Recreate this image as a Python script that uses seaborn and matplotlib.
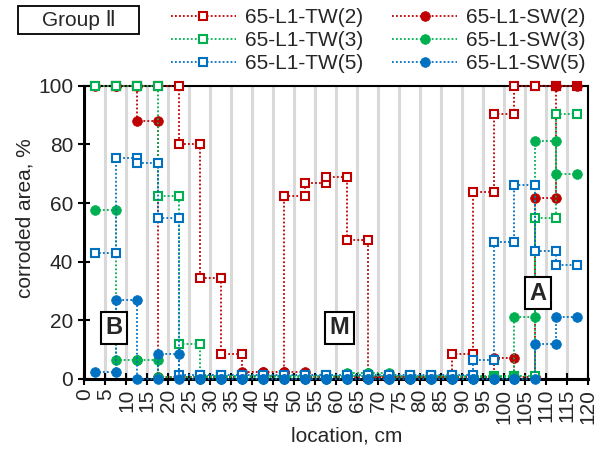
import matplotlib
matplotlib.use("Agg")
import matplotlib.pyplot as plt
from matplotlib.patches import Rectangle
from matplotlib.lines import Line2D
import seaborn as sns
import pandas as pd

# ---- data (segment values, 5 cm segments starting at 2.5 cm) ----
seg_start = 2.5
seg_width = 5
tw2 = [100, 100, 100, 100, 80, 34.5, 8.5, 1, 1, 62.5, 67, 69, 47.5, 0.5, 0.5, 0.5, 0.5, 8.5, 63.8, 90.5, 100, 100, 100]
tw3 = [100, 100, 100, 62.5, 12, 1, 1, 1, 1, 1, 1, 1, 1, 1, 1, 1, 1, 1, 1, 1, 1, 55, 90.5]
tw5 = [43, 75.5, 73.5, 55, 1.5, 1.5, 1.5, 1.5, 1.5, 1.5, 1.5, 1.5, 1.5, 1.5, 1.5, 1.5, 1.5, 1.5, 6.5, 46.8, 66, 43.5, 38.7]
sw2 = [100, 100, 88, 0.5, 0.5, 0.5, 0.5, 2.5, 2.5, 2.5, 0.5, 0.5, 0.5, 0.5, 0.5, 0.5, 0.5, 0.5, 0.5, 7.3, 0.8, 61.6, 100]
sw3 = [57.5, 6.5, 6.5, 0.5, 0.5, 0.5, 0.5, 0.5, 0.5, 0.5, 0.5, 0.5, 2, 2, 0.5, 0.5, 0.5, 0.5, 0.5, 0.5, 21, 81, 70]
sw5 = [2.5, 27, 0, 8.5, 0, 0, 0, 0, 0, 0, 0, 0, 0, 0, 0, 0, 0, 0, 0, 0, 0, 12, 21.3]

series_names = ["65-L1-TW(2)", "65-L1-TW(3)", "65-L1-TW(5)", "65-L1-SW(2)", "65-L1-SW(3)", "65-L1-SW(5)"]
series_vals = [tw2, tw3, tw5, sw2, sw3, sw5]
x_ticks = list(range(0, 125, 5))
y_ticks = [0, 20, 40, 60, 80, 100]

RED, GREEN, BLUE = "#C00000", "#00B050", "#0070C0"
colors = [RED, GREEN, BLUE, RED, GREEN, BLUE]
filled = [False, False, False, True, True, True]
draw_order = [0, 3, 1, 4, 2, 5]

sns.set_theme(style="white")
plt.rcParams["font.family"] = ["Liberation Sans", "DejaVu Sans"]

FS = 15
fig = plt.figure(figsize=(6.03, 4.49), dpi=100)
ax = fig.add_axes([0.140, 0.156, 0.835, 0.653])


def step_points(vals):
    xs, ys = [], []
    for k, v in enumerate(vals):
        x0 = seg_start + k * seg_width
        xs += [x0, x0 + seg_width]
        ys += [v, v]
    return xs, ys


def style(i):
    c = colors[i]
    if filled[i]:
        return dict(color=c, marker="o", markersize=7, markerfacecolor=c,
                    markeredgecolor=c, markeredgewidth=0.5)
    return dict(color=c, marker="s", markersize=5.4, markerfacecolor="white",
                markeredgecolor=c, markeredgewidth=1.5)


LS = (0, (1, 1.2))
for z, i in enumerate(draw_order):
    xs, ys = step_points(series_vals[i])
    df = pd.DataFrame({"x": xs, "y": ys})
    sns.lineplot(data=df, x="x", y="y", estimator=None, sort=False, ax=ax,
                 linestyle=LS, linewidth=1.3, clip_on=False, zorder=3 + z * 0.1,
                 **style(i))

handles = [Line2D([], [], linestyle=LS, linewidth=1.3, **style(i)) for i in range(6)]

ax.set_xlim(0, 120)
ax.set_ylim(0, 100)
ax.set_xticks(x_ticks)
ax.set_xticklabels([str(t) for t in x_ticks], rotation=90, fontsize=FS)
ax.set_yticks(y_ticks)
ax.set_yticklabels([str(t) for t in y_ticks], fontsize=FS)
ax.tick_params(axis="both", direction="inout", length=8, width=1.5, color="black",
               bottom=True, left=True)
ax.tick_params(axis="x", pad=3)
ax.tick_params(axis="y", pad=4)
ax.xaxis.grid(True, color="#D9D9D9", linewidth=2.2)
ax.yaxis.grid(False)
ax.set_axisbelow(True)
for s in ["left", "bottom"]:
    ax.spines[s].set_linewidth(2.2)
    ax.spines[s].set_color("black")
for s in ["top", "right"]:
    ax.spines[s].set_linewidth(1.5)
    ax.spines[s].set_color("black")

ax.set_xlabel("location, cm", fontsize=FS)
ax.set_ylabel("corroded area, %", fontsize=FS)
ax.xaxis.set_label_coords(0.52, -0.162)
ax.yaxis.set_label_coords(-0.1, 0.55)

box = dict(boxstyle="square,pad=0.2", fc="white", ec="black", lw=1.5)
ax.text(7.0, 17.4, "B", fontsize=17, fontweight="bold", ha="center", va="center", bbox=box, zorder=5)
ax.text(60.7, 17.4, "M", fontsize=17, fontweight="bold", ha="center", va="center", bbox=box, zorder=5)
ax.text(108.1, 29.3, "A", fontsize=17, fontweight="bold", ha="center", va="center", bbox=box, zorder=5)

# Group box
W, H = 603, 449
fig.patches.append(Rectangle((18 / W, 1 - 34 / H), 121 / W, 28 / H, transform=fig.transFigure,
                             fc="white", ec="black", lw=1.3))
fig.text(78.5 / W, 1 - 20 / H, "Group Ⅱ", fontsize=FS, ha="center", va="center")

fig.legend(handles, series_names, ncol=2, loc="upper left",
           bbox_to_anchor=(171 / W, 1 - 8 / H), frameon=False, fontsize=FS,
           handlelength=3.1, handletextpad=0.45, columnspacing=1.4,
           labelspacing=0.2, borderpad=0, borderaxespad=0, numpoints=1)

fig.savefig("out.png", dpi=100)
